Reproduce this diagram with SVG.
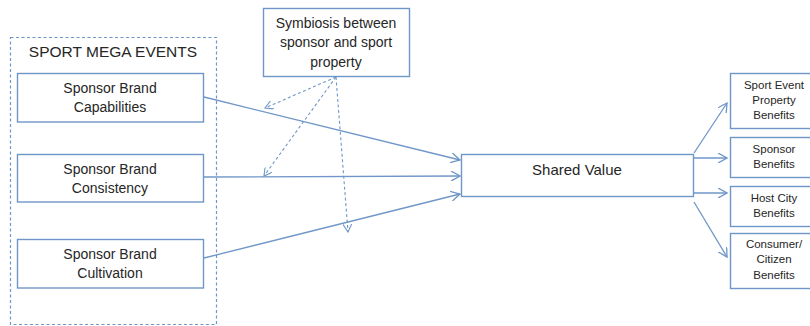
<svg xmlns="http://www.w3.org/2000/svg" width="810" height="326" viewBox="0 0 810 326">
<defs>
<style>
.box{fill:#fff;stroke:#6f96c8;stroke-width:1.4}
.outer{fill:none;stroke:#6f96c8;stroke-width:1.2;stroke-dasharray:3,2.5}
.t{font-family:"Liberation Sans",Arial,sans-serif;fill:#262626;text-anchor:middle}
.m{font-size:14px}
.s{font-size:11.5px}
.line{stroke:#6f96c8;stroke-width:1.3;fill:none}
.dash{stroke:#6f96c8;stroke-width:1.1;fill:none;stroke-dasharray:3,2.5}
</style>
<marker id="ah" viewBox="0 0 10 10" refX="9" refY="5" markerWidth="10" markerHeight="10" markerUnits="userSpaceOnUse" orient="auto">
<path d="M0,0 L9,5 L0,10" fill="none" stroke="#6f96c8" stroke-width="1.3"/>
</marker>
<marker id="ahd" viewBox="0 0 10 10" refX="9" refY="5" markerWidth="9" markerHeight="9" markerUnits="userSpaceOnUse" orient="auto">
<path d="M0,0 L9,5 L0,10" fill="none" stroke="#6f96c8" stroke-width="1.2"/>
</marker>
</defs>
<rect width="810" height="326" fill="#fff"/>
<g id="sport-mega-events">
<rect class="outer" x="10.5" y="37.5" width="206" height="287"/>
<text class="t" x="113" y="57" font-size="15.5">SPORT MEGA EVENTS</text>
</g>
<g id="capabilities">
<rect class="box" x="17.5" y="73.5" width="186" height="48.5"/>
<text class="t m" x="110" y="93">Sponsor Brand</text>
<text class="t m" x="110" y="112">Capabilities</text>
</g>
<g id="consistency">
<rect class="box" x="17.5" y="154.5" width="186" height="47.5"/>
<text class="t m" x="110" y="174">Sponsor Brand</text>
<text class="t m" x="110" y="193">Consistency</text>
</g>
<g id="cultivation">
<rect class="box" x="17.5" y="239.5" width="186" height="48.5"/>
<text class="t m" x="110" y="259">Sponsor Brand</text>
<text class="t m" x="110" y="278">Cultivation</text>
</g>
<g id="symbiosis">
<rect class="box" x="263.5" y="8.5" width="146" height="68"/>
<text class="t m" x="336" y="28">Symbiosis between</text>
<text class="t m" x="336" y="47">sponsor and sport</text>
<text class="t m" x="336" y="67">property</text>
</g>
<g id="shared-value">
<rect class="box" x="461.5" y="154.5" width="232" height="42"/>
<text class="t" x="577" y="175" font-size="15">Shared Value</text>
</g>
<g id="sport-event-benefits">
<rect class="box" x="730.5" y="73.5" width="82" height="55"/>
<text class="t s" x="774" y="89">Sport  Event</text>
<text class="t s" x="774" y="104">Property</text>
<text class="t s" x="774" y="119">Benefits</text>
</g>
<g id="sponsor-benefits">
<rect class="box" x="730.5" y="137.5" width="82" height="40"/>
<text class="t s" x="774" y="153">Sponsor</text>
<text class="t s" x="774" y="168">Benefits</text>
</g>
<g id="host-city-benefits">
<rect class="box" x="730.5" y="186.5" width="82" height="40"/>
<text class="t s" x="774" y="202">Host City</text>
<text class="t s" x="774" y="217">Benefits</text>
</g>
<g id="consumer-benefits">
<rect class="box" x="730.5" y="233.5" width="82" height="55"/>
<text class="t s" x="774" y="248">Consumer/</text>
<text class="t s" x="774" y="263">Citizen</text>
<text class="t s" x="774" y="279">Benefits</text>
</g>
<g id="connectors">
<line class="line" x1="204" y1="97" x2="460" y2="160" marker-end="url(#ah)"/>
<line class="line" x1="204" y1="177" x2="460" y2="176" marker-end="url(#ah)"/>
<line class="line" x1="204" y1="258" x2="460" y2="194" marker-end="url(#ah)"/>
<line class="line" x1="694" y1="153" x2="727" y2="103" marker-end="url(#ah)"/>
<line class="line" x1="694" y1="158" x2="727" y2="158" marker-end="url(#ah)"/>
<line class="line" x1="694" y1="193" x2="727" y2="193" marker-end="url(#ah)"/>
<line class="line" x1="694" y1="202" x2="727" y2="257" marker-end="url(#ah)"/>
<line class="dash" x1="336" y1="77" x2="265" y2="108" marker-end="url(#ahd)"/>
<line class="dash" x1="336" y1="77" x2="264" y2="176" marker-end="url(#ahd)"/>
<line class="dash" x1="336" y1="77" x2="348" y2="232" marker-end="url(#ahd)"/>
</g>
</svg>
